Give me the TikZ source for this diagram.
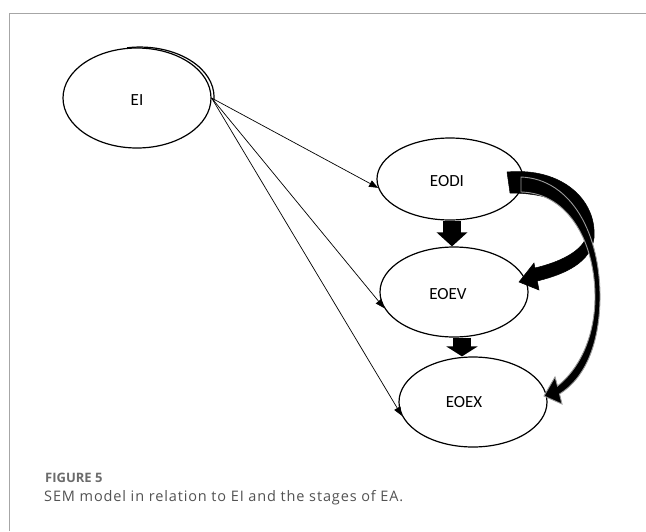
\documentclass[tikz,border=0pt]{standalone}
\usepackage{fontspec}
\setmainfont{Carlito}
\newfontfamily\capfont{Open Sans}
\newfontfamily\capfontwide[LetterSpace=6]{Open Sans}
\usetikzlibrary{shapes.geometric,arrows.meta}
\begin{document}
\begin{tikzpicture}[x=1pt,y=-1pt,
  latent/.style={ellipse,draw,line width=1.2pt,inner sep=0pt},
  lbl/.style={font=\fontsize{17}{20}\selectfont},
  pathline/.style={line width=0.7pt,-{Triangle[length=9pt,width=7pt]}},
  blockarrow/.style={line width=18pt,-{Triangle[length=14pt,width=30pt]}},
  curvedarrow/.style={fill=black,draw=black,line width=0.5pt},
  thincurved/.style={fill=black,draw=black!40,line width=0.9pt},
  frameline/.style={draw=black!35,line width=1pt}]
\useasboundingbox (0,0) rectangle (646,531);
\draw[frameline] (9.5,531) -- (9.5,13.5) -- (646,13.5);
% latent variables
\node[latent,minimum width=148pt,minimum height=100pt] (EI) at (137,98) {};
\node[lbl] (EIt) at (137,100) {EI};
\draw[line width=1.2pt] (127.2,47.8) arc[start angle=-100,end angle=5,x radius=74,y radius=50];
\node[latent,minimum width=146pt,minimum height=82pt] (EODI) at (450,179) {};
\node[lbl] (EODIt) at (447,181) {EODI};
\node[latent,minimum width=148pt,minimum height=90pt] (EOEV) at (454,292) {};
\node[lbl] (EOEVt) at (448,294) {EOEV};
\node[latent,minimum width=148pt,minimum height=90pt] (EOEX) at (473,402) {};
\node[lbl] (EOEXt) at (464,402) {EOEX};
% thin paths
\draw[pathline] (EI.east) -- (EODI.187);
\draw[pathline] (EI.east) -- (EOEV.193);
\draw[pathline] (EI.east) -- (EOEX.191);
% block arrows
\draw[blockarrow] ([xshift=2pt]EODI.south) -- ([xshift=2pt]EODI.south |- EOEV.north);
\draw[blockarrow,-{Triangle[length=10pt,width=31pt]}] ([xshift=8pt]EOEV.south) -- ([xshift=8pt]EOEV.south |- EOEX.north);
% curved arrow EODI -> EOEV
\path[curvedarrow] (507,172) .. controls (562,167) and (597,200) .. (594,238)
  .. controls (591,262) and (566,274) .. (537.3,281)
  -- (539,290) -- (519,282) -- (534,263) -- (534.9,268)
  .. controls (560,262) and (580,252) .. (586,238)
  .. controls (588,213) and (560,193) .. (510,193) -- cycle;
% curved arrow EODI -> EOEX
\path[thincurved] (521,177) .. controls (572,179) and (601,235) .. (600,300)
  .. controls (599,345) and (585,378) .. (559.5,394)
  -- (562,404) -- (544,396) -- (555,377) -- (557.5,386)
  .. controls (578,370) and (594,340) .. (595,300)
  .. controls (596,245) and (570,193) .. (521,192) -- cycle;
% caption
\node[anchor=base west,inner sep=0pt,text=black!58,font=\capfont\bfseries\fontsize{13}{15}\selectfont] (fig) at (45,482) {FIGURE 5};
\node[anchor=base west,inner sep=0pt,text=black!68,font=\capfontwide\fontsize{14.5}{17}\selectfont] (cap) at (44,501) {SEM model in relation to EI and the stages of EA.};
\end{tikzpicture}
\end{document}
